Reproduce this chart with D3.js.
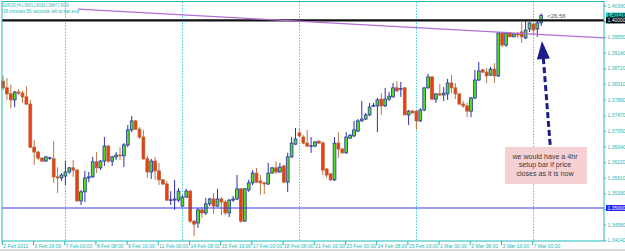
<!DOCTYPE html>
<html>
<head>
<meta charset="utf-8">
<script src="https://cdn.jsdelivr.net/npm/d3@7"></script>
<style>
  body { margin: 0; background: #fff; }
  svg { display: block; font-family: "Liberation Sans", Arial, sans-serif; }
</style>
</head>
<body>
<div id="chart"></div>
<script>
// EURUSD H4 candles, 2 Feb 2011 08:00 -> 7 Mar 2011 08:00 (one value per bar)
var opens = [1.3838,1.3820,1.3804,1.3788,1.3809,1.3806,1.3796,1.3777,1.3662,1.3649,
  1.3633,1.3625,1.3633,1.3631,1.3583,1.3580,1.3585,1.3596,1.3607,1.3601,
  1.3519,1.3543,1.3580,1.3583,1.3623,1.3607,1.3625,1.3665,1.3625,1.3636,
  1.3641,1.3639,1.3668,1.3708,1.3732,1.3710,1.3689,1.3631,1.3596,1.3625,
  1.3599,1.3575,1.3564,1.3521,1.3521,1.3521,1.3505,1.3529,1.3545,1.3465,
  1.3460,1.3495,1.3487,1.3511,1.3524,1.3505,1.3524,1.3516,1.3487,1.3521,
  1.3524,1.3551,1.3465,1.3548,1.3567,1.3593,1.3572,1.3567,1.3564,1.3593,
  1.3607,1.3596,1.3612,1.3569,1.3636,1.3670,1.3700,1.3689,1.3673,1.3665,
  1.3665,1.3678,1.3673,1.3604,1.3591,1.3575,1.3673,1.3657,1.3647,1.3686,
  1.3692,1.3705,1.3732,1.3737,1.3748,1.3772,1.3772,1.3790,1.3772,1.3790,
  1.3796,1.3820,1.3817,1.3820,1.3748,1.3758,1.3758,1.3732,1.3761,1.3820,
  1.3849,1.3790,1.3804,1.3801,1.3804,1.3833,1.3820,1.3804,1.3777,1.3772,
  1.3758,1.3793,1.3841,1.3868,1.3862,1.3854,1.3870,1.3852,1.3966,1.3934,
  1.3966,1.3956,1.3964,1.3969,1.3953,1.3977,1.3990,1.3977,1.39931];
var highs = [1.3852,1.3846,1.3828,1.3812,1.3817,1.3812,1.3825,1.3788,1.3681,1.3652,
  1.3636,1.3639,1.3636,1.3678,1.3609,1.3593,1.3625,1.3609,1.3628,1.3604,
  1.3548,1.3599,1.3596,1.3636,1.3649,1.3628,1.3689,1.3668,1.3639,1.3649,
  1.3662,1.3673,1.3721,1.3745,1.3734,1.3716,1.3708,1.3639,1.3631,1.3636,
  1.3620,1.3577,1.3572,1.3545,1.3575,1.3553,1.3535,1.3551,1.3548,1.3468,
  1.3500,1.3503,1.3527,1.3527,1.3540,1.3551,1.3529,1.3521,1.3524,1.3532,
  1.3588,1.3553,1.3553,1.3575,1.3601,1.3607,1.3588,1.3569,1.3620,1.3609,
  1.3625,1.3620,1.3615,1.3647,1.3689,1.3713,1.3710,1.3694,1.3708,1.3689,
  1.3678,1.3681,1.3678,1.3607,1.3593,1.3689,1.3702,1.3660,1.3702,1.3697,
  1.3732,1.3737,1.3785,1.3753,1.3780,1.3780,1.3793,1.3806,1.3820,1.3809,
  1.3833,1.3838,1.3836,1.3822,1.3761,1.3761,1.3761,1.3766,1.3822,1.3857,
  1.3852,1.3806,1.3830,1.3822,1.3844,1.3854,1.3833,1.3806,1.3785,1.3780,
  1.3796,1.3868,1.3889,1.3870,1.3873,1.3876,1.3886,1.3969,1.3969,1.3969,
  1.3969,1.3966,1.3969,1.3995,1.4001,1.3995,1.3993,1.3998,1.40184];
var lows = [1.3814,1.3788,1.3766,1.3769,1.3801,1.3780,1.3774,1.3660,1.3615,1.3628,
  1.3623,1.3623,1.3628,1.3567,1.3540,1.3572,1.3561,1.3591,1.3583,1.3516,
  1.3508,1.3516,1.3569,1.3580,1.3593,1.3601,1.3612,1.3620,1.3612,1.3628,
  1.3628,1.3609,1.3662,1.3702,1.3708,1.3684,1.3628,1.3580,1.3577,1.3575,
  1.3561,1.3561,1.3519,1.3508,1.3495,1.3516,1.3503,1.3527,1.3460,1.3425,
  1.3447,1.3473,1.3481,1.3505,1.3484,1.3503,1.3481,1.3481,1.3476,1.3516,
  1.3521,1.3460,1.3463,1.3543,1.3561,1.3567,1.3535,1.3537,1.3561,1.3591,
  1.3591,1.3593,1.3567,1.3543,1.3633,1.3668,1.3689,1.3670,1.3662,1.3647,
  1.3662,1.3670,1.3588,1.3580,1.3572,1.3572,1.3633,1.3644,1.3644,1.3684,
  1.3689,1.3702,1.3729,1.3734,1.3745,1.3769,1.3702,1.3748,1.3769,1.3785,
  1.3794,1.3809,1.3796,1.3748,1.3721,1.3753,1.3708,1.3729,1.3758,1.3818,
  1.3788,1.3780,1.3798,1.3785,1.3788,1.3806,1.3790,1.3774,1.3766,1.3742,
  1.3742,1.3790,1.3838,1.3860,1.3833,1.3852,1.3833,1.3849,1.3929,1.3929,
  1.3956,1.3955,1.3953,1.3940,1.3950,1.3969,1.3961,1.3956,1.39847];
var closes = [1.3820,1.3804,1.3788,1.3809,1.3806,1.3796,1.3777,1.3662,1.3649,1.3633,
  1.3625,1.3636,1.3634,1.3583,1.3580,1.3588,1.3596,1.3607,1.3601,1.3519,
  1.3543,1.3580,1.3583,1.3623,1.3607,1.3625,1.3665,1.3625,1.3636,1.3641,
  1.3639,1.3668,1.3708,1.3732,1.3710,1.3689,1.3631,1.3596,1.3625,1.3599,
  1.3575,1.3564,1.3521,1.3522,1.3524,1.3545,1.3529,1.3545,1.3465,1.3457,
  1.3495,1.3487,1.3511,1.3524,1.3505,1.3524,1.3516,1.3487,1.3521,1.3524,
  1.3551,1.3465,1.3551,1.3567,1.3593,1.3569,1.3567,1.3564,1.3593,1.3607,
  1.3596,1.3609,1.3569,1.3636,1.3673,1.3684,1.3692,1.3673,1.3665,1.3666,
  1.3676,1.3673,1.3601,1.3588,1.3575,1.3673,1.3657,1.3647,1.3689,1.3694,
  1.3708,1.3732,1.3737,1.3748,1.3769,1.3773,1.3788,1.3772,1.3790,1.3798,
  1.3820,1.3812,1.3818,1.3748,1.3758,1.3753,1.3732,1.3761,1.3820,1.3849,
  1.3790,1.3804,1.3801,1.3806,1.3833,1.3820,1.3804,1.3777,1.3772,1.3758,
  1.3793,1.3841,1.3865,1.3862,1.3852,1.3870,1.3852,1.3966,1.3934,1.3966,
  1.3956,1.3964,1.3961,1.3956,1.3974,1.3993,1.3974,1.3993,1.40126];

// time axis labels, one every 8 bars
var timeLabels = ["2 Feb 2011", "3 Feb 16:00", "7 Feb 00:00", "8 Feb 08:00", "9 Feb 16:00",
  "11 Feb 00:00", "14 Feb 08:00", "15 Feb 16:00", "17 Feb 00:00", "18 Feb 08:00",
  "21 Feb 16:00", "23 Feb 00:00", "24 Feb 08:00", "25 Feb 16:00", "1 Mar 00:00",
  "2 Mar 08:00", "3 Mar 16:00", "7 Mar 00:00"];
var labelEvery = 8;
// weekly period separators (Monday 00:00 bars)
var weekStarts = [16, 46, 76, 106, 136];

// price scale
var priceTicks = [1.40390, 1.39970, 1.39550, 1.39140, 1.38720, 1.38310, 1.37890, 1.37470,
  1.37050, 1.36640, 1.36220, 1.35810, 1.35390, 1.34970, 1.34560, 1.34140];

// objects on the chart
var hLines = [1.40000, 1.35000];
var trendLine = [[19.2, 1.40300], [154.1, 1.39530]];
var arrowLine = [[140.3, 1.36680], [138.2, 1.39450]];
var noteLines = ["we would have a 4hr", "setup bar if price", "closes as it is  now"];
var titleText = "EURUSD,H4  1.39931 1.40184 1.39847 1.40126";
var commentText = "26 minutes 56 seconds left to bar end";
var timerText = "<26:56";

var svgWidth = 625;
var svgHeight = 251;
var frame = { left: 2, top: 1.5, right: 604, bottom: 241 };
var teal = "#22b8b8";

var svg = d3.select("#chart")
  .append("svg")
  .attr("width", svgWidth)
  .attr("height", svgHeight);

// bar index -> pixel, price -> pixel
var x = d3.scaleLinear().domain([0, 136]).range([3, 533.4]);
var y = d3.scaleLinear().domain([1.35, 1.40]).range([208, 20.3]);

var bars = d3.range(opens.length).map(function(i) {
  return { i: i, o: opens[i], h: highs[i], l: lows[i], c: closes[i] };
});

// window strip at the bottom
svg.append("rect")
  .attr("x", 0).attr("y", 249)
  .attr("width", svgWidth).attr("height", 2)
  .attr("fill", "#d8d8d8");

// period separators
svg.append("g").selectAll("line")
  .data(weekStarts)
  .enter()
  .append("line")
  .attr("x1", d => Math.round(x(d)) + 0.5)
  .attr("x2", d => Math.round(x(d)) + 0.5)
  .attr("y1", frame.top)
  .attr("y2", frame.bottom)
  .attr("stroke", "#3cd0d8")
  .attr("stroke-width", 1)
  .attr("stroke-dasharray", "1.5,1.5");

// candles
var candleGroup = svg.append("g");

candleGroup.selectAll(".wick")
  .data(bars)
  .enter()
  .append("line")
  .attr("x1", d => x(d.i))
  .attr("x2", d => x(d.i))
  .attr("y1", d => y(d.h))
  .attr("y2", d => y(d.l))
  .attr("stroke", d => d.c >= d.o ? "#2f2fb0" : "#b8774a")
  .attr("stroke-width", 1);

candleGroup.selectAll(".body")
  .data(bars)
  .enter()
  .append("rect")
  .attr("x", d => x(d.i) - 1.4)
  .attr("width", 2.8)
  .attr("y", d => Math.min(y(d.o), y(d.c)))
  .attr("height", d => Math.max(0.6, Math.abs(y(d.o) - y(d.c))))
  .attr("fill", d => d.c >= d.o ? "#4ee01a" : "#ee3c0e")
  .attr("stroke", d => d.c >= d.o ? "#2f2fb0" : "#b8602e")
  .attr("stroke-width", 0.8);

// horizontal lines: 1.40000 thick black, 1.35000 blue
svg.append("line")
  .attr("x1", frame.left).attr("x2", frame.right)
  .attr("y1", y(hLines[0])).attr("y2", y(hLines[0]))
  .attr("stroke", "#111").attr("stroke-width", 2.3);

svg.append("line")
  .attr("x1", frame.left).attr("x2", frame.right)
  .attr("y1", y(hLines[1])).attr("y2", y(hLines[1]))
  .attr("stroke", "#3a3af2").attr("stroke-width", 1.2);

// violet trend line
svg.append("line")
  .attr("x1", x(trendLine[0][0])).attr("y1", y(trendLine[0][1]))
  .attr("x2", Math.min(frame.right, x(trendLine[1][0]))).attr("y2", y(trendLine[1][1]))
  .attr("stroke", "#b26ed8").attr("stroke-width", 1.3);

// dashed arrow pointing at the last bar
var ax0 = x(arrowLine[0][0]), ay0 = y(arrowLine[0][1]);
var ax1 = x(arrowLine[1][0]), ay1 = y(arrowLine[1][1]);
var ang = Math.atan2(ay1 - ay0, ax1 - ax0);
var headLen = 18, headHalf = 6.5;
var bx = ax1 - headLen * Math.cos(ang), by = ay1 - headLen * Math.sin(ang);

svg.append("line")
  .attr("x1", ax0).attr("y1", ay0)
  .attr("x2", bx).attr("y2", by)
  .attr("stroke", "#1c1c8a")
  .attr("stroke-width", 3)
  .attr("stroke-dasharray", "6,3");

svg.append("path")
  .attr("d", "M" + ax1 + "," + ay1 +
    "L" + (bx + headHalf * Math.sin(ang)) + "," + (by - headHalf * Math.cos(ang)) +
    "L" + (bx - headHalf * Math.sin(ang)) + "," + (by + headHalf * Math.cos(ang)) + "Z")
  .attr("fill", "#1c1c8a");

// note box
svg.append("rect")
  .attr("x", 505).attr("y", 147)
  .attr("width", 82).attr("height", 37)
  .attr("fill", "#f7d0d3");

svg.append("g").selectAll("text")
  .data(noteLines)
  .enter()
  .append("text")
  .attr("x", 545)
  .attr("y", (d, i) => 159 + i * 8.4)
  .attr("text-anchor", "middle")
  .attr("font-size", 7.1)
  .attr("fill", "#3a3a3a")
  .text(d => d);

// countdown next to the last bar
svg.append("text")
  .attr("x", x(bars.length - 1) + 6)
  .attr("y", y(closes[closes.length - 1]) + 2)
  .attr("font-size", 6)
  .attr("fill", "#555")
  .text(timerText);

// frame
svg.append("rect")
  .attr("x", frame.left).attr("y", frame.top)
  .attr("width", frame.right - frame.left)
  .attr("height", frame.bottom - frame.top)
  .attr("fill", "none")
  .attr("stroke", teal)
  .attr("stroke-width", 1);

// price axis on the right
var rightAxis = d3.axisRight(y)
  .tickValues(priceTicks)
  .tickFormat(d3.format(".5f"))
  .tickSize(2)
  .tickPadding(1.5);

var yAxis = svg.append("g")
  .attr("transform", `translate(${frame.right}, 0)`)
  .call(rightAxis);
yAxis.select(".domain").remove();
yAxis.selectAll("line").attr("stroke", teal);
yAxis.selectAll("text")
  .attr("fill", teal)
  .attr("font-size", 5)
  .attr("font-family", "Liberation Sans, Arial, sans-serif");

// highlighted price labels: bid, 1.40000 line, 1.35000 line
var priceBoxes = [
  { p: closes[closes.length - 1], bg: "#27c6c6", fg: "#000" },
  { p: hLines[0], bg: "#000", fg: "#fff" },
  { p: hLines[1], bg: "#2626f0", fg: "#fff" }
];
var boxGroup = svg.append("g");
priceBoxes.forEach(function(b) {
  boxGroup.append("rect")
    .attr("x", frame.right + 2).attr("y", y(b.p) - 3)
    .attr("width", 19).attr("height", 6)
    .attr("fill", b.bg);
  boxGroup.append("text")
    .attr("x", frame.right + 3.5).attr("y", y(b.p) + 1.8)
    .attr("font-size", 5)
    .attr("fill", b.fg)
    .text(d3.format(".5f")(b.p));
});

// time axis at the bottom
var labelIdx = timeLabels.map((d, i) => i * labelEvery);
var timeGroup = svg.append("g");
timeGroup.selectAll("line")
  .data(labelIdx)
  .enter()
  .append("line")
  .attr("x1", d => x(d) - 0.7).attr("x2", d => x(d) - 0.7)
  .attr("y1", frame.bottom).attr("y2", frame.bottom + 4)
  .attr("stroke", teal);
timeGroup.selectAll("text")
  .data(labelIdx)
  .enter()
  .append("text")
  .attr("x", d => x(d) + 0.3)
  .attr("y", 247.5)
  .attr("font-size", 5)
  .attr("fill", teal)
  .text((d, i) => timeLabels[i]);

// title and comment in the corner
svg.append("text")
  .attr("x", 3).attr("y", 7)
  .attr("font-size", 5)
  .attr("fill", teal)
  .attr("textLength", 66)
  .attr("lengthAdjust", "spacingAndGlyphs")
  .text(titleText);
svg.append("text")
  .attr("x", 3).attr("y", 13)
  .attr("font-size", 5)
  .attr("fill", teal)
  .attr("textLength", 76)
  .attr("lengthAdjust", "spacingAndGlyphs")
  .text(commentText);
</script>
</body>
</html>
